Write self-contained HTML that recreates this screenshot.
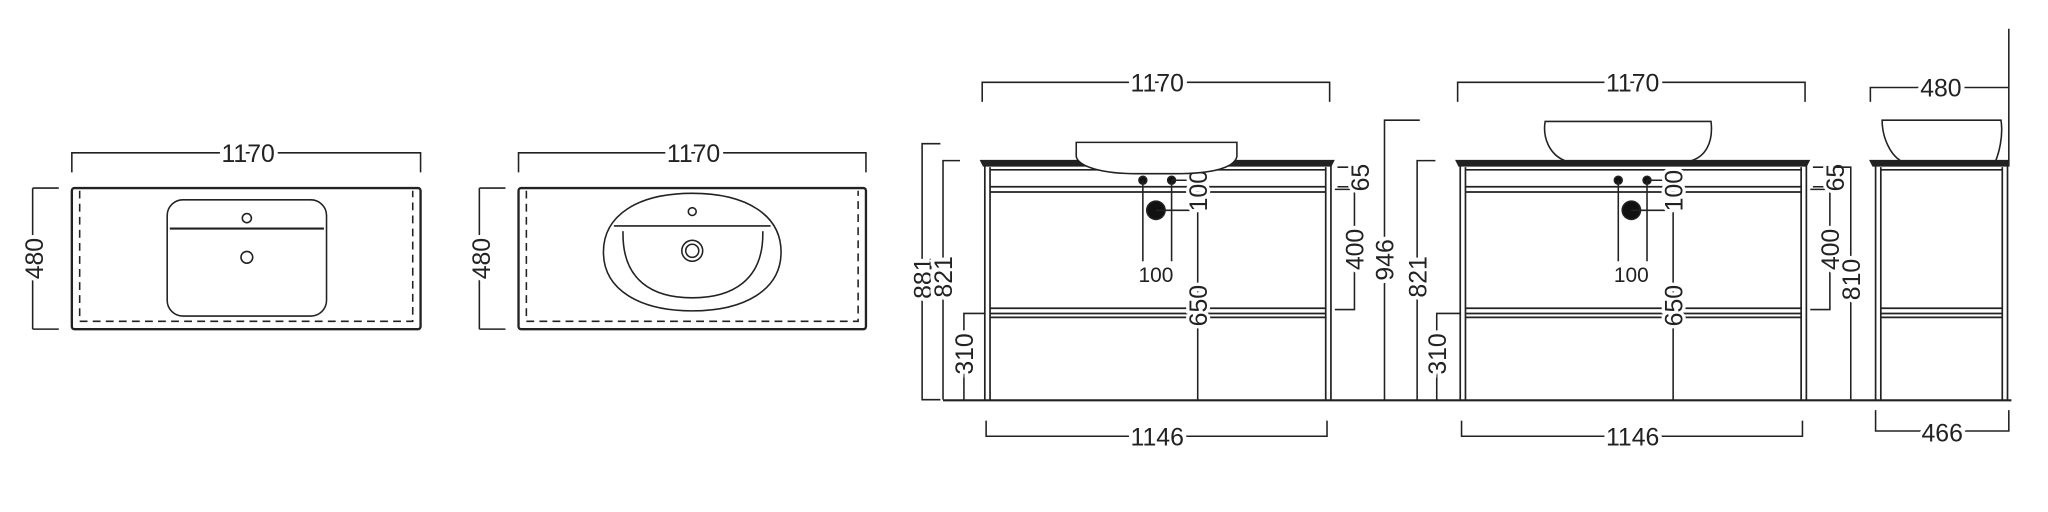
<!DOCTYPE html>
<html><head><meta charset="utf-8"><style>html,body{margin:0;padding:0;background:#fff}svg{display:block}</style></head>
<body>
<svg width="2048" height="512" viewBox="0 0 1568 392" preserveAspectRatio="none" xmlns="http://www.w3.org/2000/svg" font-family="Liberation Sans, sans-serif" font-size="19" fill="none" stroke="#222" stroke-width="1.2">
<rect x="0" y="0" width="1568" height="392" fill="#fff" stroke="none"/>
<!-- Plan 1 -->
<g>
<path d="M55 132V117H322V132M25 144H45M25 252H45M25 144V252"/>
<rect x="55" y="144" width="267" height="108" rx="2" stroke-width="1.8"/>
<path d="M61 146V246H316V146" stroke-dasharray="6 4"/>
<rect x="128" y="153" width="122" height="89" rx="12"/>
<path d="M130 175H248" stroke-width="1.6"/>
<circle cx="189" cy="167" r="3.5"/><circle cx="189" cy="197" r="4.5"/>
<text x="190" y="124" text-anchor="middle" fill="#222" stroke="#fff" stroke-width="6" paint-order="stroke">1170</text>
<text transform="translate(33 198) rotate(-90)" text-anchor="middle" fill="#222" stroke="#fff" stroke-width="6" paint-order="stroke">480</text>
</g>
<!-- Plan 2 -->
<g>
<path d="M397 132V117H663V132M367 144H387M367 252H387M367 144V252"/>
<rect x="397" y="144" width="266" height="108" rx="2" stroke-width="1.8"/>
<path d="M403 146V246H657V146" stroke-dasharray="6 4"/>
<path d="M530 148C572 148 598 165 598 193C598 222 570 238 530 238C490 238 462 222 462 193C462 165 488 148 530 148Z"/>
<path d="M470 173H590M477 177C476 215 500 228 530 228C560 228 585 215 584 177"/>
<circle cx="530" cy="192" r="8"/><circle cx="530" cy="192" r="5"/><circle cx="530" cy="162" r="3"/>
<text x="531" y="124" text-anchor="middle" fill="#222" stroke="#fff" stroke-width="6" paint-order="stroke">1170</text>
<text transform="translate(375 198) rotate(-90)" text-anchor="middle" fill="#222" stroke="#fff" stroke-width="6" paint-order="stroke">480</text>
</g>
<!-- floor -->
<path d="M722 306.5H1540" stroke-width="1.6"/>
<defs>
<g id="cab">
<path d="M751 123H1021L1019 127H753Z" fill="#222"/>
<path d="M754 127V306M758 128V306M1015 128V306M1019 127V306" stroke-width="1.3"/>
<path d="M758 130H1015M758 143H1015M758 147H1015M758 236H1015M758 240H1015M758 243H1015" stroke-width="1.3"/>
<circle cx="875" cy="138" r="3" fill="#111"/><circle cx="897" cy="138" r="3" fill="#111"/>
<circle cx="885" cy="161" r="7" fill="#111"/>
<path d="M875 138V200M897 138V200M897 138H915M885 161H917V306"/>
<path d="M752 78V63H1018V78"/>
<path d="M755 322V334H1016V322"/>
<text x="885" y="216" text-anchor="middle" fill="#222" stroke="none" font-size="16">100</text>
<text transform="translate(924 146) rotate(-90)" text-anchor="middle" fill="#222" stroke="#fff" stroke-width="5" paint-order="stroke">100</text>
<text transform="translate(924 234) rotate(-90)" text-anchor="middle" fill="#222" stroke="#fff" stroke-width="5" paint-order="stroke">650</text>
<text x="886" y="70" text-anchor="middle" fill="#222" stroke="#fff" stroke-width="6" paint-order="stroke">1170</text>
<text x="886" y="341" text-anchor="middle" fill="#222" stroke="#fff" stroke-width="6" paint-order="stroke">1146</text>
<path d="M1022 145H1037V237H1022"/>
<text transform="translate(1044 191) rotate(-90)" text-anchor="middle" fill="#222" stroke="#fff" stroke-width="6" paint-order="stroke">400</text>
<path d="M1024 128H1035M1024 143H1035"/>
<text transform="translate(1048 136) rotate(-90)" text-anchor="middle" fill="#222" stroke="#fff" stroke-width="5" paint-order="stroke">65</text>
</g>
</defs>
<use href="#cab"/>
<use href="#cab" transform="translate(364 0)"/>
<path d="M824 109H947V120C945 128 930 133 900 133H870C845 133 826 128 824 120Z" fill="#fff"/>
<path d="M1183 93H1310C1312 110 1305 120 1295 123H1198C1186 118 1181 105 1183 93Z" fill="#fff"/>
<path d="M720 110H706V306H720M735 123H722V306M754 240H738V306"/>
<text transform="translate(713 213) rotate(-90)" text-anchor="middle" fill="#222" stroke="#fff" stroke-width="6" paint-order="stroke">881</text>
<text transform="translate(729 212) rotate(-90)" text-anchor="middle" fill="#222" stroke="#fff" stroke-width="6" paint-order="stroke">821</text>
<text transform="translate(745 271) rotate(-90)" text-anchor="middle" fill="#222" stroke="#fff" stroke-width="6" paint-order="stroke">310</text>
<path d="M1087 92H1060V306"/>
<text transform="translate(1067 199) rotate(-90)" text-anchor="middle" fill="#222" stroke="#fff" stroke-width="6" paint-order="stroke">946</text>
<path d="M1099 123H1085V306M1118 240H1100V306"/>
<text transform="translate(1092 212) rotate(-90)" text-anchor="middle" fill="#222" stroke="#fff" stroke-width="6" paint-order="stroke">821</text>
<text transform="translate(1107 271) rotate(-90)" text-anchor="middle" fill="#222" stroke="#fff" stroke-width="6" paint-order="stroke">310</text>
<path d="M1404 128H1417V306"/>
<text transform="translate(1424 214) rotate(-90)" text-anchor="middle" fill="#222" stroke="#fff" stroke-width="6" paint-order="stroke">810</text>
<path d="M1432 123H1538V127H1434Z" fill="#222"/>
<path d="M1436 127V306M1440 128V306M1533 128V306M1537 127V306" stroke-width="1.3"/>
<path d="M1440 130H1533M1440 236H1533M1440 240H1533M1440 243H1533" stroke-width="1.3"/>
<path d="M1441 92H1532C1534 105 1530 118 1528 123H1455C1447 118 1441 105 1441 92Z" fill="#fff"/>
<path d="M1538 22V123M1432 78V67H1538"/>
<text x="1486" y="74" text-anchor="middle" fill="#222" stroke="#fff" stroke-width="6" paint-order="stroke">480</text>
<path d="M1436 314V330H1538V314"/>
<text x="1487" y="338" text-anchor="middle" fill="#222" stroke="#fff" stroke-width="6" paint-order="stroke">466</text>
</svg>
</body></html>
